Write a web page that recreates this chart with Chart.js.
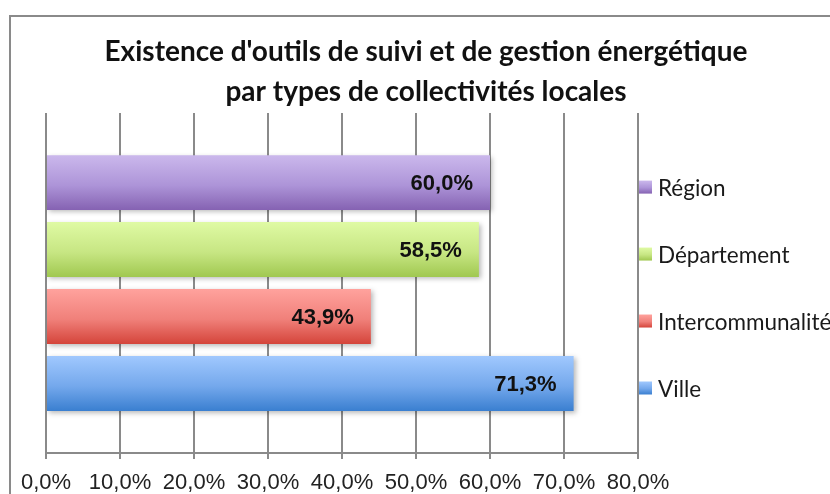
<!DOCTYPE html>
<html>
<head>
<meta charset="utf-8">
<script src="https://cdn.jsdelivr.net/npm/chart.js@4/dist/chart.umd.min.js"></script>
<style>
  body { margin: 0; background: #fff; overflow: hidden; }
  #wrap { position: relative; width: 830px; height: 494px; }
  #frame { position: absolute; left: 9px; top: 15px; width: 900px; height: 600px; border: 2px solid #8a8a8a; }
  canvas { position: absolute; left: 0; top: 0; }
</style>
</head>
<body>
<div id="wrap">
  <div id="frame"></div>
  <canvas id="chart" width="830" height="494"></canvas>
</div>
<script>
const types = ['Région', 'Département', 'Intercommunalité', 'Ville']
const shares = [60.0, 58.5, 43.9, 71.3]
const xTicks = [0, 10, 20, 30, 40, 50, 60, 70, 80]

// top / middle / bottom colours of each bar
const shades = [
    ['#cbb8ec', '#ad94d8', '#8562b2'],
    ['#dffaa4', '#c7e683', '#a0c850'],
    ['#ffa29d', '#f0807a', '#d4443a'],
    ['#a0c8fe', '#74a8ec', '#3a7fd0']
]

const fmt = v => v.toFixed(1).replace('.', ',') + '%'

function gradientFor(ctx, top, bottom, c) {
    const g = ctx.createLinearGradient(0, top, 0, bottom)
    g.addColorStop(0, c[0])
    g.addColorStop(0.55, c[1])
    g.addColorStop(1, c[2])
    return g
}

// vertical gradient and soft shadow on every bar
const barLook = {
    id: 'barLook',
    beforeDatasetsDraw(chart) {
        const ctx = chart.ctx
        chart.data.datasets.forEach((ds, i) => {
            chart.getDatasetMeta(i).data.forEach(bar => {
                const h = bar.height
                bar.options = Object.assign({}, bar.options, {
                    backgroundColor: gradientFor(ctx, bar.y - h / 2, bar.y + h / 2, shades[i])
                })
            })
        })
        ctx.save()
        ctx.shadowColor = 'rgba(0,0,0,0.28)'
        ctx.shadowBlur = 5
        ctx.shadowOffsetX = 2
        ctx.shadowOffsetY = 2
    },
    afterDatasetsDraw(chart) {
        const ctx = chart.ctx
        ctx.restore()

        // value labels inside the end of each bar
        ctx.save()
        ctx.font = 'bold 22px "Liberation Sans", Arial, sans-serif'
        ctx.fillStyle = '#111'
        ctx.textAlign = 'right'
        ctx.textBaseline = 'middle'
        chart.data.datasets.forEach((ds, i) => {
            chart.getDatasetMeta(i).data.forEach((bar, j) => {
                ctx.fillText(fmt(ds.data[j]), bar.x - 17, bar.y + 1)
            })
        })
        ctx.restore()
    }
}

// legend drawn next to the bars, one entry per type
const sideLegend = {
    id: 'sideLegend',
    afterDraw(chart) {
        const ctx = chart.ctx
        const x0 = chart.chartArea.right + 1
        ctx.save()
        ctx.font = '22.5px Lato, "Open Sans", sans-serif'
        ctx.textBaseline = 'middle'
        chart.data.datasets.forEach((ds, i) => {
            const bar = chart.getDatasetMeta(i).data[0]
            const y = bar.y + 5
            ctx.fillStyle = gradientFor(ctx, y - 7, y + 6, shades[i])
            ctx.fillRect(x0, y - 7, 13, 13)
            ctx.fillStyle = '#1a1a1a'
            ctx.fillText(ds.label, x0 + 19, y + 1)
        })
        ctx.restore()
    }
}

const data = {
    labels: [''],
    datasets: types.map((t, i) => ({
        label: t,
        data: [shares[i]],
        backgroundColor: shades[i][1],
        borderWidth: 0,
        categoryPercentage: 0.788,
        barPercentage: 0.82
    }))
}

const options = {
    indexAxis: 'y',
    responsive: false,
    animation: false,
    layout: { padding: { left: 22, right: 0, top: 0, bottom: 0 } },
    plugins: {
        legend: { display: false },
        tooltip: { enabled: false },
        title: {
            display: true,
            text: ["Existence d'outils de suivi et de gestion énergétique", 'par types de collectivités locales'],
            color: '#111',
            font: { family: 'Lato, "Open Sans", sans-serif', size: 28, weight: 'bold', lineHeight: 1.43 },
            padding: { top: 32, bottom: 1 }
        }
    },
    scales: {
        x: {
            min: xTicks[0],
            max: xTicks[xTicks.length - 1],
            afterBuildTicks: s => { s.ticks = xTicks.map(v => ({ value: v })) },
            afterFit: s => { s.height = 41 },
            grid: { color: '#8a8a8a', lineWidth: 2, tickLength: 6 },
            border: { display: true, color: '#8a8a8a', width: 2 },
            ticks: {
                padding: 11,
                color: '#222',
                font: { family: '"Liberation Sans", Arial, sans-serif', size: 22 },
                callback: v => fmt(v)
            }
        },
        y: {
            position: 'left',
            afterFit: s => { s.width = 24 },
            ticks: { display: false },
            grid: { display: false },
            border: { display: false }
        },
        side: {
            axis: 'y',
            type: 'linear',
            position: 'right',
            afterFit: s => { s.width = 192 },
            ticks: { display: false },
            grid: { display: false },
            border: { display: false }
        }
    }
}

new Chart('chart', { type: 'bar', data, options, plugins: [barLook, sideLegend] })
</script>
</body>
</html>
